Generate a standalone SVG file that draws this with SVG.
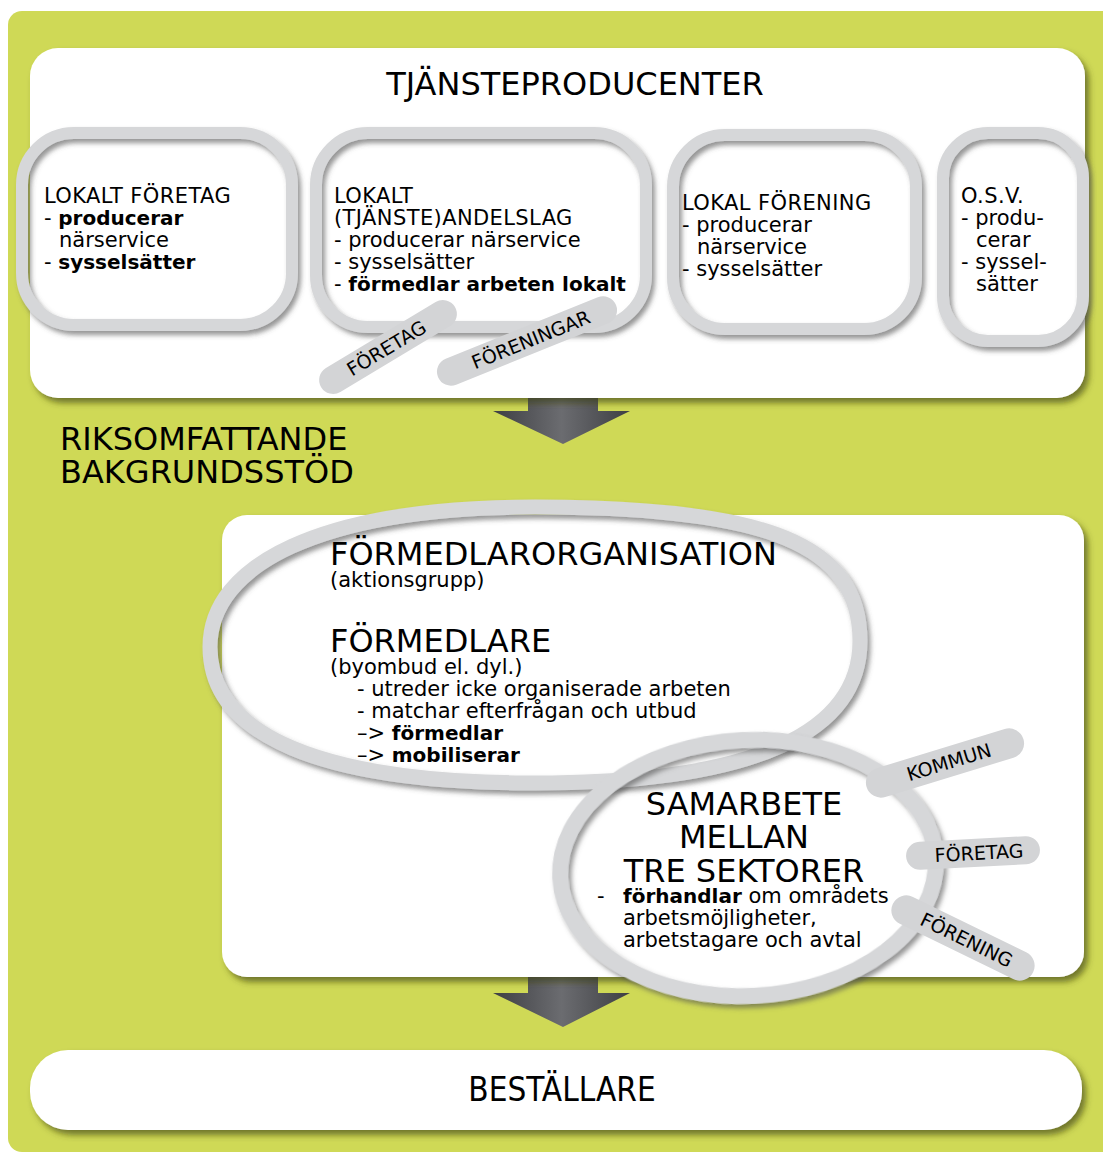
<svg xmlns="http://www.w3.org/2000/svg" width="1103" height="1153" viewBox="0 0 1103 1153">
<defs>
<style>
text{font-family:"DejaVu Sans","Liberation Sans",sans-serif;fill:#000}
.t20{font-size:21px}
.caps{letter-spacing:0.4px}
.big{font-size:32px}
.tag{font-size:19px}
.b{font-weight:bold;font-size:20px}
.panel{fill:#fff;filter:url(#psh)}
.ring{fill:none;stroke:#d6d7d9;filter:url(#rsh)}
.pill{fill:#d3d4d6}
.arrow{fill:url(#ag)}
</style>
<filter id="psh" x="-5%" y="-10%" width="110%" height="125%">
<feDropShadow dx="4" dy="5" stdDeviation="3" flood-color="#3f430c" flood-opacity="0.65"/>
</filter>
<filter id="rsh" x="-10%" y="-10%" width="120%" height="125%">
<feDropShadow dx="3" dy="4" stdDeviation="2.5" flood-color="#505050" flood-opacity="0.6"/>
</filter>
<linearGradient id="ag" x1="0" y1="0" x2="1" y2="0">
<stop offset="0" stop-color="#3e3f43"/>
<stop offset="0.5" stop-color="#6b6c70"/>
<stop offset="1" stop-color="#3e3f43"/>
</linearGradient>
</defs>

<rect x="8" y="11" width="1120" height="1141" rx="14" fill="#cfd956"/>

<g id="arrows">
<path class="arrow" d="M528,396 H598 V411 H630 L563,444 L493,411 H528 Z"/>
<path class="arrow" d="M528,974 H598 V993 H630 L563,1027 L493,993 H528 Z"/>
</g>

<g id="tjansteproducenter">
<rect class="panel" x="30" y="48" width="1055" height="350" rx="28"/>
<text class="big" x="575" y="95" text-anchor="middle">TJÄNSTEPRODUCENTER</text>
</g>

<g id="lokalt-foretag">
<rect class="ring" x="22" y="133" width="270" height="192" rx="52" stroke-width="12"/>
<text class="t20 caps" x="44" y="203">LOKALT FÖRETAG</text>
<text class="t20" x="44" y="225">- <tspan class="b">producerar</tspan></text>
<text class="t20" x="59" y="247">närservice</text>
<text class="t20" x="44" y="269">- <tspan class="b">sysselsätter</tspan></text>
</g>

<g id="lokalt-andelslag">
<rect class="ring" x="316" y="133" width="330" height="194" rx="52" stroke-width="12"/>
<text class="t20 caps" x="334" y="203">LOKALT</text>
<text class="t20 caps" x="334" y="225">(TJÄNSTE)ANDELSLAG</text>
<text class="t20" x="334" y="247">- producerar närservice</text>
<text class="t20" x="334" y="269">- sysselsätter</text>
<text class="t20" x="334" y="291">- <tspan class="b">förmedlar arbeten lokalt</tspan></text>
</g>

<g id="lokal-forening">
<rect class="ring" x="673" y="135" width="243" height="194" rx="52" stroke-width="12"/>
<text class="t20 caps" x="682" y="210">LOKAL FÖRENING</text>
<text class="t20" x="682" y="232">- producerar</text>
<text class="t20" x="697" y="254">närservice</text>
<text class="t20" x="682" y="276">- sysselsätter</text>
</g>

<g id="osv">
<rect class="ring" x="943" y="133" width="140" height="208" rx="45" stroke-width="12"/>
<text class="t20 caps" x="961" y="203">O.S.V.</text>
<text class="t20" x="961" y="225">- produ-</text>
<text class="t20" x="976" y="247">cerar</text>
<text class="t20" x="961" y="269">- syssel-</text>
<text class="t20" x="976" y="291">sätter</text>
</g>

<g id="tag-foretag-top" transform="translate(388,347) rotate(-31)">
<rect class="pill" x="-78" y="-14" width="156" height="28" rx="14"/>
<text class="tag" x="-2" y="7" text-anchor="middle">FÖRETAG</text>
</g>
<g id="tag-foreningar" transform="translate(527,341) rotate(-22)">
<rect class="pill" x="-96" y="-14" width="192" height="28" rx="14"/>
<text class="tag" x="4" y="7" text-anchor="middle">FÖRENINGAR</text>
</g>

<g id="riksomfattande">
<text class="big" x="60" y="450">RIKSOMFATTANDE</text>
<text class="big" x="60" y="483">BAKGRUNDSSTÖD</text>
</g>

<g id="formedlarorganisation">
<rect class="panel" x="222" y="515" width="862" height="462" rx="25"/>
<ellipse cx="748" cy="868" rx="188" ry="130" fill="#fff"/>
<path class="ring" stroke-width="15" d="M210,647 C210,565 320,507 535,507 C769,507 860,545 860,641 C860,730 760,783 535,783 C320,783 210,735 210,647 Z"/>
<text class="big" x="330" y="565">FÖRMEDLARORGANISATION</text>
<text class="t20" x="330" y="587">(aktionsgrupp)</text>
<text class="big" x="330" y="652">FÖRMEDLARE</text>
<text class="t20" x="330" y="674">(byombud el. dyl.)</text>
<text class="t20" x="357" y="696">- utreder icke organiserade arbeten</text>
<text class="t20" x="357" y="718">- matchar efterfrågan och utbud</text>
<text class="t20" x="357" y="740">–&gt; <tspan class="b">förmedlar</tspan></text>
<text class="t20" x="357" y="762">–&gt; <tspan class="b">mobiliserar</tspan></text>
</g>

<g id="samarbete">
<ellipse class="ring" cx="748" cy="868" rx="188" ry="128" transform="rotate(-3 748 868)" stroke-width="16"/>
<text class="big" x="744" y="815" text-anchor="middle">SAMARBETE</text>
<text class="big" x="744" y="848" text-anchor="middle">MELLAN</text>
<text class="big" x="744" y="882" text-anchor="middle">TRE SEKTORER</text>
<text class="t20" x="597" y="903">-</text>
<text class="t20" x="623" y="903"><tspan class="b">förhandlar</tspan> om områdets</text>
<text class="t20" x="623" y="925">arbetsmöjligheter,</text>
<text class="t20" x="623" y="947">arbetstagare och avtal</text>
</g>

<g id="tag-kommun" transform="translate(945,763) rotate(-17)">
<rect class="pill" x="-82" y="-15" width="164" height="30" rx="15"/>
<text class="tag" x="4" y="7" text-anchor="middle">KOMMUN</text>
</g>
<g id="tag-foretag-right" transform="translate(973,853) rotate(-3)">
<rect class="pill" x="-67" y="-14" width="134" height="28" rx="14"/>
<text class="tag" x="6" y="7" text-anchor="middle">FÖRETAG</text>
</g>
<g id="tag-forening" transform="translate(963,938) rotate(26)">
<rect class="pill" x="-78" y="-15" width="156" height="30" rx="15"/>
<text class="tag" x="4" y="7" text-anchor="middle">FÖRENING</text>
</g>

<g id="bestallare">
<rect class="panel" x="30" y="1050" width="1052" height="80" rx="38"/>
<text x="562" y="1101" text-anchor="middle" style="font-family:'DejaVu Sans Condensed','DejaVu Sans',sans-serif;font-stretch:condensed;font-size:33px">BESTÄLLARE</text>
</g>
</svg>
